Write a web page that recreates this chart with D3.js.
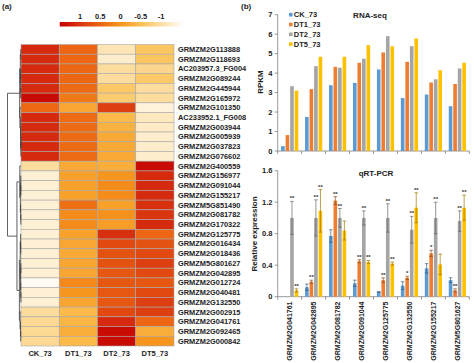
<!DOCTYPE html>
<html>
<head>
<meta charset="utf-8">
<script src="https://cdnjs.cloudflare.com/ajax/libs/d3/7.8.5/d3.min.js"></script>
<style>
  body { margin: 0; background: #fff; }
  svg text { font-family: "Liberation Sans", Arial, sans-serif; font-weight: bold; fill: #222; }
</style>
</head>
<body>
<svg id="chart" width="474" height="363"></svg>
<script>
// ---- heatmap data (a) ----
var genes = ["GRMZM2G113888", "GRMZM2G118693", "AC203957.3_FG004", "GRMZM2G089244", "GRMZM2G445944",
  "GRMZM2G165972", "GRMZM2G101350", "AC233952.1_FG008", "GRMZM2G003944", "GRMZM2G005939",
  "GRMZM2G037823", "GRMZM2G076602", "GRMZM2G400559", "GRMZM2G156977", "GRMZM2G091044",
  "GRMZM2G155217", "GRMZM5G851490", "GRMZM2G081782", "GRMZM2G170322", "GRMZM2G125775",
  "GRMZM2G016434", "GRMZM2G018436", "GRMZM5G801627", "GRMZM2G042895", "GRMZM2G012724",
  "GRMZM2G040481", "GRMZM2G132550", "GRMZM2G002915", "GRMZM2G041761", "GRMZM2G092465",
  "GRMZM2G000842"];
var samples = ["CK_73", "DT1_73", "DT2_73", "DT5_73"];
var heatValues = [
  [1.1, 0.5, -1.1, -0.6], [1.1, 0.5, -1.25, -0.6], [1.1, 0.5, -0.95, -0.85], [1.1, 0.5, -0.95, -0.65],
  [1.1, 0.45, -0.65, -0.95], [1.4, 0.3, -0.7, -0.95], [0.5, -0.2, 0.9, -1.35], [1.1, 0.45, -0.45, -1.15],
  [1.1, 0.45, -0.35, -1.2], [1.1, 0.45, -0.25, -1.25], [1.1, 0.45, -0.25, -1.25], [1.1, 0.45, -0.25, -1.25],
  [-0.95, -0.25, -0.3, 1.4], [-1.3, -0.15, 0.0, 1.1], [-1.3, -0.15, 0.1, 1.1], [-1.3, -0.15, 0.1, 1.1],
  [-1.3, 0.4, -0.15, 1.05], [-1.3, 0.1, 0.05, 1.0], [-1.3, 0.1, -0.1, 1.1], [-1.3, -0.15, 1.05, 0.5],
  [-1.3, -0.2, 0.8, 0.7], [-1.3, -0.25, 0.7, 0.8], [-1.3, -0.2, 0.7, 0.9], [-1.3, -0.2, 0.65, 0.8],
  [-1.5, 0.15, 0.65, 0.65], [-1.3, 0.0, 0.65, 0.8], [-1.3, -0.2, 0.65, 0.9], [-0.95, -0.45, 0.8, 0.9],
  [-0.9, -0.4, 1.1, 0.5], [-0.9, -0.3, 1.4, -0.3], [-0.9, -0.45, 1.4, 0.0]
];
var colorTicks = [1, 0.5, 0, -0.5, -1];
// row clustering, leaves are row indices, h = merge height
var tree = { h: 10, c: [
  { h: 1.0, c: [
    { h: 0.5, c: [{ h: 0.2, c: [0, 1] }, { h: 0.3, c: [{ h: 0.15, c: [2, 3] }, { h: 0.2, c: [4, 5] }] }] },
    { h: 0.8, c: [6, { h: 0.3, c: [7, { h: 0.2, c: [8, { h: 0.1, c: [{ h: 0.05, c: [9, 10] }, 11] }] }] }] }
  ] },
  { h: 3.0, c: [
    { h: 0.9, c: [12, { h: 0.5, c: [{ h: 0.2, c: [13, { h: 0.1, c: [14, 15] }] }, { h: 0.3, c: [16, { h: 0.1, c: [17, 18] }] }] }] },
    { h: 1.2, c: [
      { h: 0.6, c: [{ h: 0.3, c: [19, { h: 0.2, c: [20, 21] }] }, { h: 0.3, c: [{ h: 0.1, c: [22, 23] }, { h: 0.2, c: [24, { h: 0.1, c: [25, 26] }] }] }] },
      { h: 0.7, c: [27, { h: 0.4, c: [28, { h: 0.2, c: [29, 30] }] }] }
    ] }
  ] }
] };

// ---- RNA-seq data (b, top) ----
var series = ["CK_73", "DT1_73", "DT2_73", "DT5_73"];
var qGenes = ["GRMZM2G041761", "GRMZM2G042895", "GRMZM2G081782", "GRMZM2G091044",
  "GRMZM2G125775", "GRMZM2G132550", "GRMZM2G155217", "GRMZM5G801627"];
var rnaCK = [0.25, 1.75, 3.38, 3.5, 4.19, 2.72, 2.9, 2.3];
var rnaDT1 = [0.82, 3.18, 4.32, 4.53, 5.06, 4.58, 3.52, 3.44];
var rnaDT2 = [3.33, 4.36, 4.28, 4.74, 5.9, 5.38, 3.68, 4.24];
var rnaDT5 = [3.1, 4.84, 4.84, 5.44, 5.38, 5.78, 4.15, 4.53];
var rnaTicks = [0, 1, 2, 3, 4, 5, 6, 7];

// ---- qRT-PCR data (b, bottom) ----
var qCK = [0, 0.12, 0.77, 0.17, 0.06, 0.14, 0.36, 0.21];
var qCKErr = [0, 0.04, 0.08, 0.04, 0.005, 0.05, 0.06, 0.03];
var qDT1 = [0, 0.19, 1.22, 0.45, 0.21, 0.24, 0.55, 0.08];
var qDT1Err = [0, 0.02, 0.05, 0.02, 0.03, 0.02, 0.04, 0.02];
var qDT2 = [1.0, 1.0, 1.0, 1.0, 1.0, 0.85, 1.0, 0.96];
var qDT2Err = [0.21, 0.23, 0.12, 0.09, 0.18, 0.17, 0.2, 0.13];
var qDT5 = [0.08, 1.09, 0.84, 0.44, 0.42, 1.13, 0.41, 1.13];
var qDT5Err = [0.02, 0.27, 0.12, 0.02, 0.02, 0.19, 0.13, 0.16];
var qCKSig = ["", "", "", "", "", "", "", ""];
var qDT1Sig = ["", "**", "**", "**", "**", "*", "*", "**"];
var qDT2Sig = ["**", "**", "**", "**", "**", "**", "**", "**"];
var qDT5Sig = ["**", "**", "", "**", "**", "**", "", "**"];
var qTicks = [0, 0.4, 0.8, 1.2, 1.6];

var seriesColors = ["#5B9BD5", "#ED7D31", "#A5A5A5", "#FFC000"];

(function(d3) {
  'use strict';

  var svg = d3.select("#chart");

  // ================= panel (a) =================
  svg.append("text").attr("x", 2).attr("y", 9).style("font-size", "8px").text("(a)");

  var heatColor = d3.scaleLinear()
    .domain([1.5, 1, 0.5, 0, -0.5, -1, -1.5])
    .range(["#C40000", "#D93510", "#EC6613", "#F6961E", "#FBBE4E", "#FDE0A6", "#FFFAF2"])
    .clamp(true);

  // colour key
  var keyX = d3.scaleLinear().domain([1.5, -1.5]).range([59.75, 181.25]);
  var grad = svg.append("defs").append("linearGradient").attr("id", "keyGrad");
  d3.range(0, 1.0001, 0.1).forEach(function(t) {
    grad.append("stop").attr("offset", t).attr("stop-color", heatColor(1.5 - 3 * t));
  });
  svg.append("rect")
    .attr("x", keyX(1.5)).attr("y", 22)
    .attr("width", keyX(-1.5) - keyX(1.5)).attr("height", 4.5)
    .attr("fill", "url(#keyGrad)");
  svg.selectAll(".keyLabel").data(colorTicks).enter().append("text")
    .attr("x", function(d) { return keyX(d); })
    .attr("y", 19)
    .attr("text-anchor", "middle")
    .style("font-size", "7.5px")
    .text(function(d) { return d; });

  var xCol = d3.scaleBand().domain(samples).range([21, 174]);
  var yRow = d3.scaleBand().domain(d3.range(genes.length)).range([44.5, 346]);

  var cells = [];
  heatValues.forEach(function(row, i) {
    row.forEach(function(v, j) { cells.push({ r: i, c: samples[j], v: v }); });
  });
  svg.append("g").selectAll("rect").data(cells).enter().append("rect")
    .attr("x", function(d) { return xCol(d.c); })
    .attr("y", function(d) { return yRow(d.r); })
    .attr("width", xCol.bandwidth())
    .attr("height", yRow.bandwidth())
    .attr("fill", function(d) { return heatColor(d.v); })
    .attr("stroke", "#a9a9a9")
    .attr("stroke-width", 0.6);

  svg.append("g").selectAll("text").data(genes).enter().append("text")
    .attr("x", 178)
    .attr("y", function(d, i) { return yRow(i) + yRow.bandwidth() / 2; })
    .attr("dy", "0.35em")
    .style("font-size", "7.4px")
    .text(function(d) { return d; });

  svg.append("g").selectAll("text").data(samples).enter().append("text")
    .attr("x", function(d) { return xCol(d) + xCol.bandwidth() / 2; })
    .attr("y", 356)
    .attr("text-anchor", "middle")
    .style("font-size", "7.5px")
    .text(function(d) { return d; });

  // dendrogram
  var xd = d3.scaleLinear().domain([0, 10]).range([21, 7.5]);
  var root = d3.hierarchy(tree, function(d) { return d.c; });
  root.eachAfter(function(n) {
    if (!n.children) {
      n.py = yRow(n.data) + yRow.bandwidth() / 2;
      n.ph = 0;
    } else {
      n.py = d3.mean(n.children, function(c) { return c.py; });
      n.ph = n.data.h;
    }
  });
  var dendro = svg.append("g").attr("stroke", "#3a3a3a").attr("stroke-width", 0.8).attr("fill", "none");
  root.descendants().filter(function(n) { return n.children; }).forEach(function(n) {
    var ys = n.children.map(function(c) { return c.py; });
    dendro.append("line")
      .attr("x1", xd(n.ph)).attr("x2", xd(n.ph))
      .attr("y1", d3.min(ys)).attr("y2", d3.max(ys));
    n.children.forEach(function(c) {
      dendro.append("line")
        .attr("x1", xd(n.ph)).attr("x2", xd(c.ph))
        .attr("y1", c.py).attr("y2", c.py);
    });
  });

  // ================= panel (b) =================
  svg.append("text").attr("x", 241).attr("y", 9).style("font-size", "8px").text("(b)");

  var x0 = d3.scaleBand().domain(qGenes).range([277.7, 469.3]);
  var x1 = d3.scaleBand().domain(series).range([3.4, 20.6]).paddingInner(0.2);

  function drawAxes(yScale, ticks, fmt, top, bottom) {
    var g = svg.append("g");
    g.append("line").attr("x1", 277.7).attr("x2", 277.7)
      .attr("y1", top).attr("y2", bottom).attr("stroke", "#7f7f7f").attr("stroke-width", 0.8);
    g.selectAll(".yt").data(ticks).enter().append("line")
      .attr("x1", 274.7).attr("x2", 277.7)
      .attr("y1", function(d) { return yScale(d); })
      .attr("y2", function(d) { return yScale(d); })
      .attr("stroke", "#7f7f7f").attr("stroke-width", 0.8);
    g.selectAll(".yl").data(ticks).enter().append("text")
      .attr("x", 272.5)
      .attr("y", function(d) { return yScale(d); })
      .attr("dy", "0.35em")
      .attr("text-anchor", "end")
      .style("font-size", "7.5px")
      .text(fmt);
    g.append("line").attr("x1", 277.7).attr("x2", 469.3)
      .attr("y1", bottom).attr("y2", bottom).attr("stroke", "#7f7f7f").attr("stroke-width", 0.8);
    var edges = qGenes.map(function(d) { return x0(d); }).concat([x0.range()[1]]);
    g.selectAll(".xt").data(edges).enter().append("line")
      .attr("x1", function(d) { return d; }).attr("x2", function(d) { return d; })
      .attr("y1", bottom).attr("y2", bottom + 3)
      .attr("stroke", "#7f7f7f").attr("stroke-width", 0.8);
  }

  // --- RNA-seq ---
  var yR = d3.scaleLinear().domain([0, 7]).range([151, 14.7]);
  drawAxes(yR, rnaTicks, function(d) { return d; }, 14.7, 151);

  var rnaSeries = [rnaCK, rnaDT1, rnaDT2, rnaDT5];
  var rnaBars = [];
  rnaSeries.forEach(function(vals, s) {
    vals.forEach(function(v, i) { rnaBars.push({ g: qGenes[i], s: series[s], k: s, v: v }); });
  });
  svg.append("g").selectAll("rect").data(rnaBars).enter().append("rect")
    .attr("x", function(d) { return x0(d.g) + x1(d.s); })
    .attr("y", function(d) { return yR(d.v); })
    .attr("width", x1.bandwidth())
    .attr("height", function(d) { return yR(0) - yR(d.v); })
    .attr("fill", function(d) { return seriesColors[d.k]; });

  svg.append("text").attr("x", 370).attr("y", 17.5).attr("text-anchor", "middle")
    .style("font-size", "8px").text("RNA-seq");
  svg.append("text")
    .attr("transform", "translate(263,82) rotate(-90)")
    .attr("text-anchor", "middle")
    .style("font-size", "8px").text("RPKM");

  var legend = svg.append("g").selectAll("g").data(series).enter().append("g")
    .attr("transform", function(d, i) { return "translate(289," + (14.7 + i * 9.8) + ")"; });
  legend.append("rect").attr("x", 0).attr("y", -1.8).attr("width", 3.6).attr("height", 3.6)
    .attr("fill", function(d, i) { return seriesColors[i]; });
  legend.append("text").attr("x", 4.8).attr("dy", "0.35em")
    .style("font-size", "7.5px").text(function(d) { return d; });

  // --- qRT-PCR ---
  var yQ = d3.scaleLinear().domain([0, 1.6]).range([296.7, 170.7]);
  drawAxes(yQ, qTicks, function(d) { return d === 0 ? "0" : d3.format(".1f")(d); }, 170.7, 296.7);

  var qSeries = [qCK, qDT1, qDT2, qDT5];
  var qErrs = [qCKErr, qDT1Err, qDT2Err, qDT5Err];
  var qSigs = [qCKSig, qDT1Sig, qDT2Sig, qDT5Sig];
  var qBars = [];
  qSeries.forEach(function(vals, s) {
    vals.forEach(function(v, i) {
      qBars.push({ g: qGenes[i], s: series[s], k: s, v: v, e: qErrs[s][i], sig: qSigs[s][i] });
    });
  });

  var qg = svg.append("g").selectAll("g").data(qBars).enter().append("g")
    .attr("transform", function(d) { return "translate(" + (x0(d.g) + x1(d.s)) + ",0)"; });
  qg.append("rect")
    .attr("y", function(d) { return yQ(d.v); })
    .attr("width", x1.bandwidth())
    .attr("height", function(d) { return yQ(0) - yQ(d.v); })
    .attr("fill", function(d) { return seriesColors[d.k]; });

  var bw = x1.bandwidth();
  var errG = qg.filter(function(d) { return d.e > 0; }).append("g")
    .attr("stroke", function(d) { return d3.color(seriesColors[d.k]).darker(1.3); })
    .attr("stroke-width", 0.7);
  errG.append("line")
    .attr("x1", bw / 2).attr("x2", bw / 2)
    .attr("y1", function(d) { return yQ(d.v - d.e); })
    .attr("y2", function(d) { return yQ(d.v + d.e); });
  errG.append("line")
    .attr("x1", bw / 2 - 1.8).attr("x2", bw / 2 + 1.8)
    .attr("y1", function(d) { return yQ(d.v + d.e); })
    .attr("y2", function(d) { return yQ(d.v + d.e); });
  errG.append("line")
    .attr("x1", bw / 2 - 1.8).attr("x2", bw / 2 + 1.8)
    .attr("y1", function(d) { return yQ(Math.max(0, d.v - d.e)); })
    .attr("y2", function(d) { return yQ(Math.max(0, d.v - d.e)); });

  qg.filter(function(d) { return d.sig; }).append("text")
    .attr("x", bw / 2)
    .attr("y", function(d) { return yQ(d.v + d.e) - 1; })
    .attr("text-anchor", "middle")
    .style("font-size", "6px")
    .style("fill", "#333")
    .text(function(d) { return d.sig; });

  svg.append("text").attr("x", 376).attr("y", 176).attr("text-anchor", "middle")
    .style("font-size", "8px").text("qRT-PCR");
  svg.append("text")
    .attr("transform", "translate(257,234) rotate(-90)")
    .attr("text-anchor", "middle")
    .style("font-size", "8px").text("Relative expression");

  svg.append("g").selectAll("text").data(qGenes).enter().append("text")
    .attr("transform", function(d) {
      return "translate(" + (x0(d) + x0.bandwidth() / 2 + 2.5) + ",301.5) rotate(-90)";
    })
    .attr("text-anchor", "end")
    .style("font-size", "7px")
    .text(function(d) { return d; });

})(d3);
</script>
</body>
</html>
